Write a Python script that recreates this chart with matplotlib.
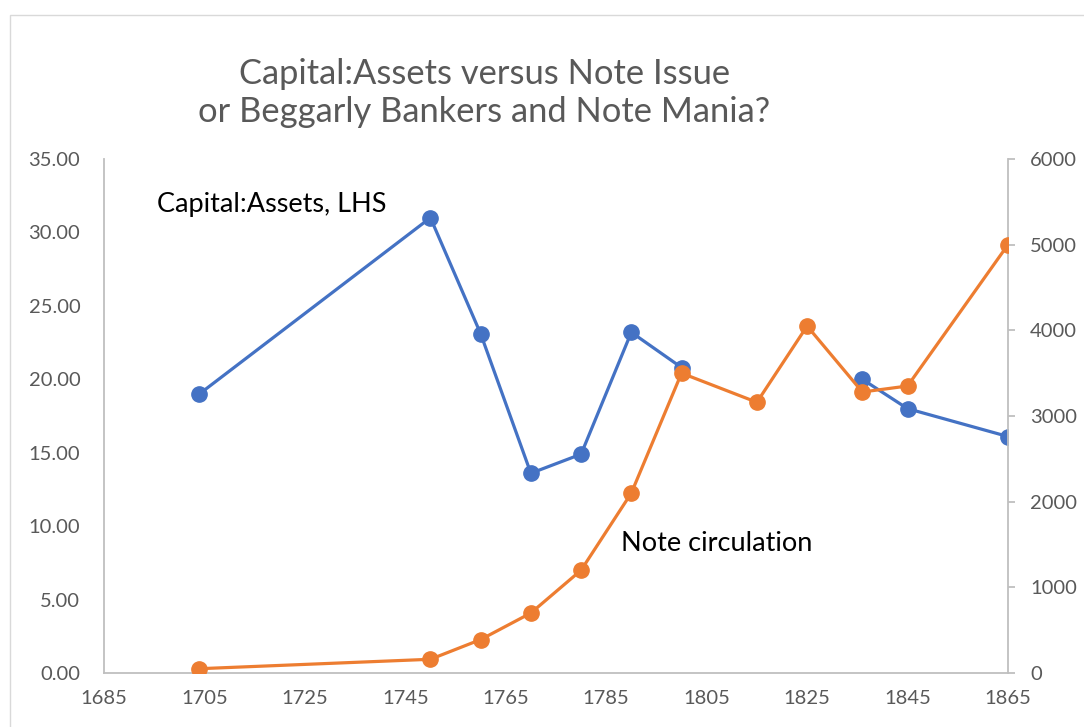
import numpy as np
import matplotlib.pyplot as plt
from matplotlib.patches import Rectangle

plt.rcParams['font.family'] = ['Lato', 'DejaVu Sans']

# data (no capital:assets figure for 1815 and 1825)
years = [1704, 1750, 1760, 1770, 1780, 1790, 1800, 1815, 1825, 1836, 1845, 1865]
capital_assets = [19.0, 31.0, 23.1, 13.6, 14.9, 23.2, 20.8, np.nan, np.nan, 20.0, 18.0, 16.1]
note_circulation = [50, 160, 390, 700, 1200, 2100, 3500, 3160, 4050, 3280, 3350, 5000]

blue = '#4472C4'
orange = '#ED7D31'
grey_txt = '#595959'
grey_line = '#BFBFBF'

fig = plt.figure(figsize=(10.84, 7.27), dpi=100)
ax = fig.add_axes([0.0959, 0.0743, 0.834, 0.707])
ax2 = ax.twinx()

# outer chart border
fig.patches.append(Rectangle((10 / 1084, -0.1), 1.2, 1 - 15 / 727 + 0.1,
                             transform=fig.transFigure, fill=False,
                             edgecolor='#D9D9D9', linewidth=1))

ax.plot(years, capital_assets, color=blue, lw=2.3, marker='o', ms=11, zorder=3)
ax2.plot(years, note_circulation, color=orange, lw=2.3, marker='o', ms=11, zorder=3)

ax.set_xlim(1685, 1865)
ax.set_xticks(range(1685, 1866, 20))
ax.set_ylim(0, 35)
ax.set_yticks(range(0, 36, 5))
ax.set_yticklabels([f'{v:.2f}' for v in range(0, 36, 5)])
ax2.set_ylim(0, 6000)
ax2.set_yticks(range(0, 6001, 1000))

for a in (ax, ax2):
    for s in a.spines.values():
        s.set_visible(False)
ax.spines['left'].set_visible(True)
ax.spines['bottom'].set_visible(True)
ax2.spines['right'].set_visible(True)
for s in (ax.spines['left'], ax.spines['bottom'], ax2.spines['right']):
    s.set_color(grey_line)
    s.set_linewidth(1.3)

ax.tick_params(axis='y', length=0, pad=17, labelsize=14.5, labelcolor=grey_txt)
ax.tick_params(axis='x', length=0, pad=12, labelsize=14.5, labelcolor=grey_txt)
ax2.tick_params(axis='y', length=5, width=1.3, color=grey_line, pad=11,
                labelsize=14.5, labelcolor=grey_txt)

fig.text(0.447, 0.872, 'Capital:Assets versus Note Issue\nor Beggarly Bankers and Note Mania?',
         ha='center', va='center', fontsize=24.8, color=grey_txt, linespacing=1.25)

ax.text(1695.6, 31.9, 'Capital:Assets, LHS', fontsize=19.5, color='black', va='center')
ax2.text(1788, 1517, 'Note circulation', fontsize=19.5, color='black', va='center')

fig.savefig('out.png', dpi=100)
